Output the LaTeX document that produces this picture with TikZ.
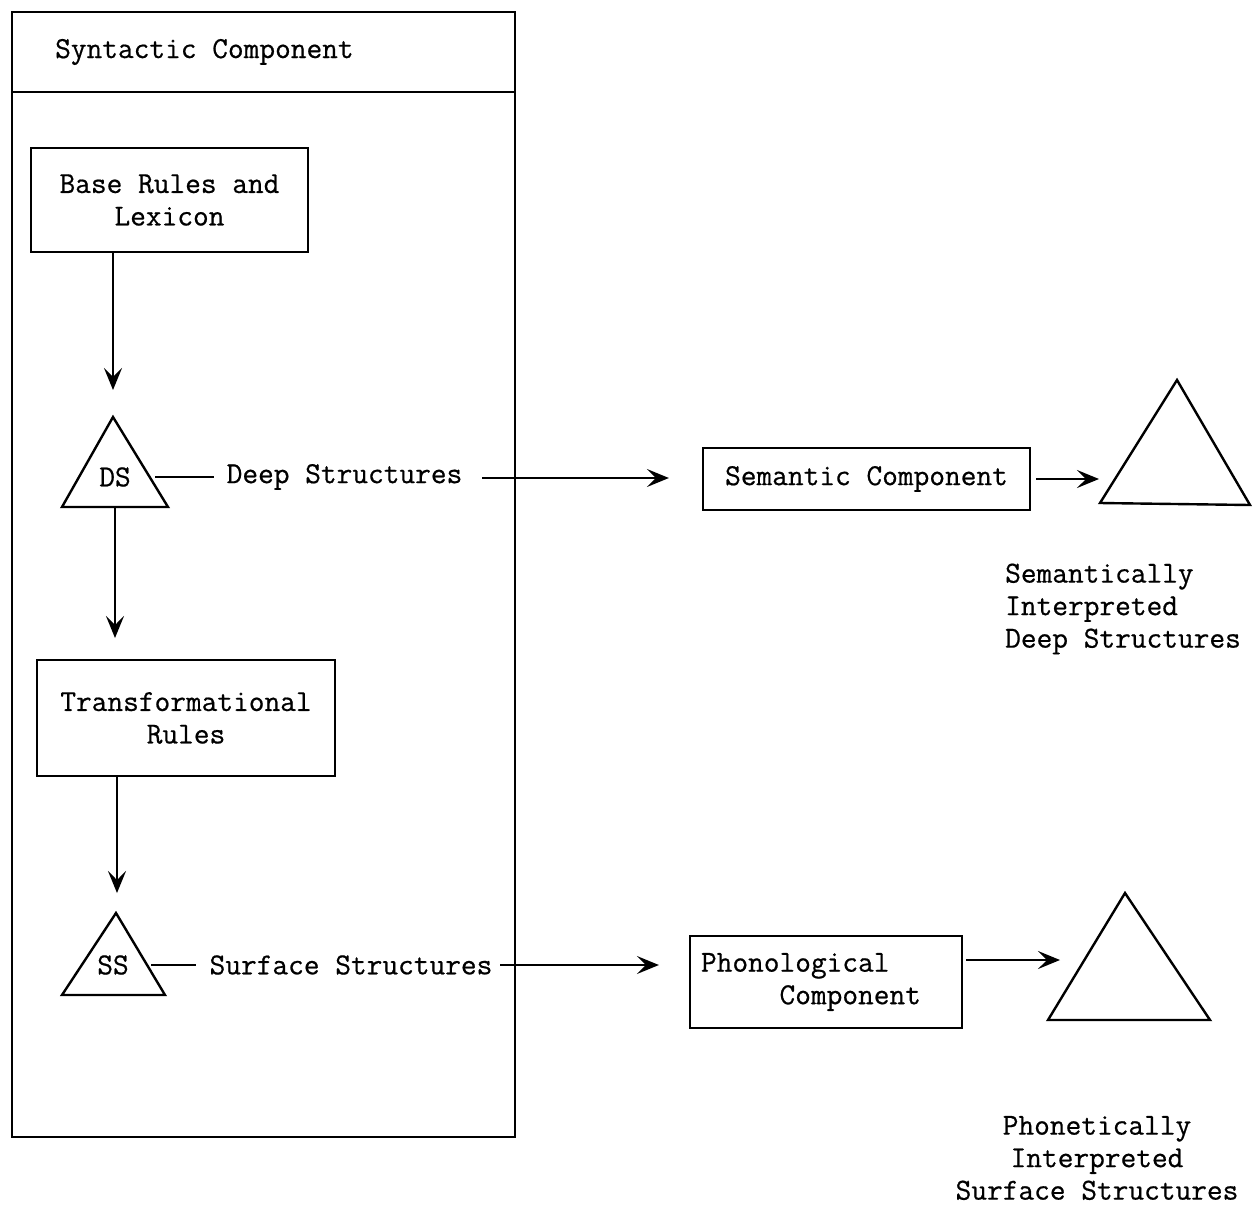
\documentclass[tikz,border=0pt]{standalone}
\usepackage{fontspec}
\setmonofont[FakeBold=0.6]{Latin Modern Mono}
\usetikzlibrary{arrows.meta}
\begin{document}
\begin{tikzpicture}[x=1pt,y=-1pt,
  lbl/.style={font=\fontsize{30.5}{32.5}\selectfont\ttfamily, inner sep=0pt},
  box/.style={lbl, draw, line width=2.2pt, align=center},
  ln/.style={line width=2pt},
  arr/.style={line width=2pt, -{Stealth[length=22pt,width=18pt,inset=9pt]}},
  tri/.style={line width=2.4pt, line join=miter}]
\useasboundingbox (0,0) rectangle (1258,1205);

% Syntactic component frame
\node[draw, line width=2.2pt, minimum width=503, minimum height=1125, inner sep=0pt] (syn) at (263.5,574.5) {};
\coordinate (hdrL) at (12,92);
\coordinate (hdrR) at (515,92);
\draw[ln] (hdrL) -- (hdrR);
\node[lbl, anchor=west] (syntitle) at (55,52) {Syntactic Component};

% Base rules
\node[box, minimum width=277, minimum height=104] (base) at (169.5,200) {Base Rules and\\Lexicon};
\coordinate (a1s) at (113,252);
\coordinate (a1e) at (113,390);
\draw[arr] (a1s) -- (a1e);

% DS triangle
\coordinate (dsA) at (113,417);
\coordinate (dsL) at (62,507);
\coordinate (dsB) at (168,507);
\draw[tri] (dsA) -- (dsL) -- (dsB) -- cycle;
\node[lbl] (ds) at (115,477) {DS};
\coordinate (dsR) at (155,477);
\node[lbl] (dsl) at (344.5,477) {Deep Structures};
\draw[ln] (dsR) -- ([xshift=-12pt]dsl.west);
\node[box, minimum width=327, minimum height=62] (sem) at (866.5,479) {Semantic Component};
\coordinate (dsArrS) at (482,478);
\draw[arr] (dsArrS) -- ([xshift=-33pt]sem.west |- dsArrS);

% Semantic triangle
\coordinate (t1A) at (1177,380);
\coordinate (t1L) at (1100,503);
\coordinate (t1R) at (1250,505);
\draw[tri] (t1A) -- (t1L) -- (t1R) -- cycle;
\coordinate (t1in) at (1099,479);
\draw[arr] ([xshift=5pt]sem.east) -- (t1in);
\node[lbl, anchor=west, align=left] (semlbl) at (1005,609) {Semantically\\Interpreted\\Deep Structures};

% DS -> transformational
\coordinate (a2s) at (115,507);
\coordinate (a2e) at (115,638);
\draw[arr] (a2s) -- (a2e);
\node[box, minimum width=298, minimum height=116] (trans) at (186,718) {Transformational\\Rules};
\coordinate (a3s) at (117,776);
\coordinate (a3e) at (117,893);
\draw[arr] (a3s) -- (a3e);

% SS triangle
\coordinate (ssA) at (116,913);
\coordinate (ssL) at (62,995);
\coordinate (ssB) at (165,995);
\draw[tri] (ssA) -- (ssL) -- (ssB) -- cycle;
\node[lbl] (ss) at (113,965) {SS};
\coordinate (ssR) at (151,965);
\node[lbl] (ssl) at (351,965) {Surface Structures};
\draw[ln] (ssR) -- ([xshift=-13pt]ssl.west |- ssR);
\node[box, align=left, text width=250pt, inner xsep=11pt, minimum height=92] (phon) at (826,982) {Phonological\\\phantom{xxxxx}Component};
\coordinate (ssArrS) at (500,965);
\draw[arr] (ssArrS) -- ([xshift=-30pt]phon.west |- ssArrS);

% Phonetic triangle
\coordinate (t2A) at (1125,893);
\coordinate (t2L) at (1048,1020);
\coordinate (t2R) at (1210,1020);
\draw[tri] (t2A) -- (t2L) -- (t2R) -- cycle;
\coordinate (t2in) at (1060,960);
\draw[arr] ([xshift=3pt]phon.east |- t2in) -- (t2in);
\node[lbl, align=center] (phlbl) at (1097,1158) {Phonetically\\Interpreted\\Surface Structures};
\end{tikzpicture}
\end{document}
